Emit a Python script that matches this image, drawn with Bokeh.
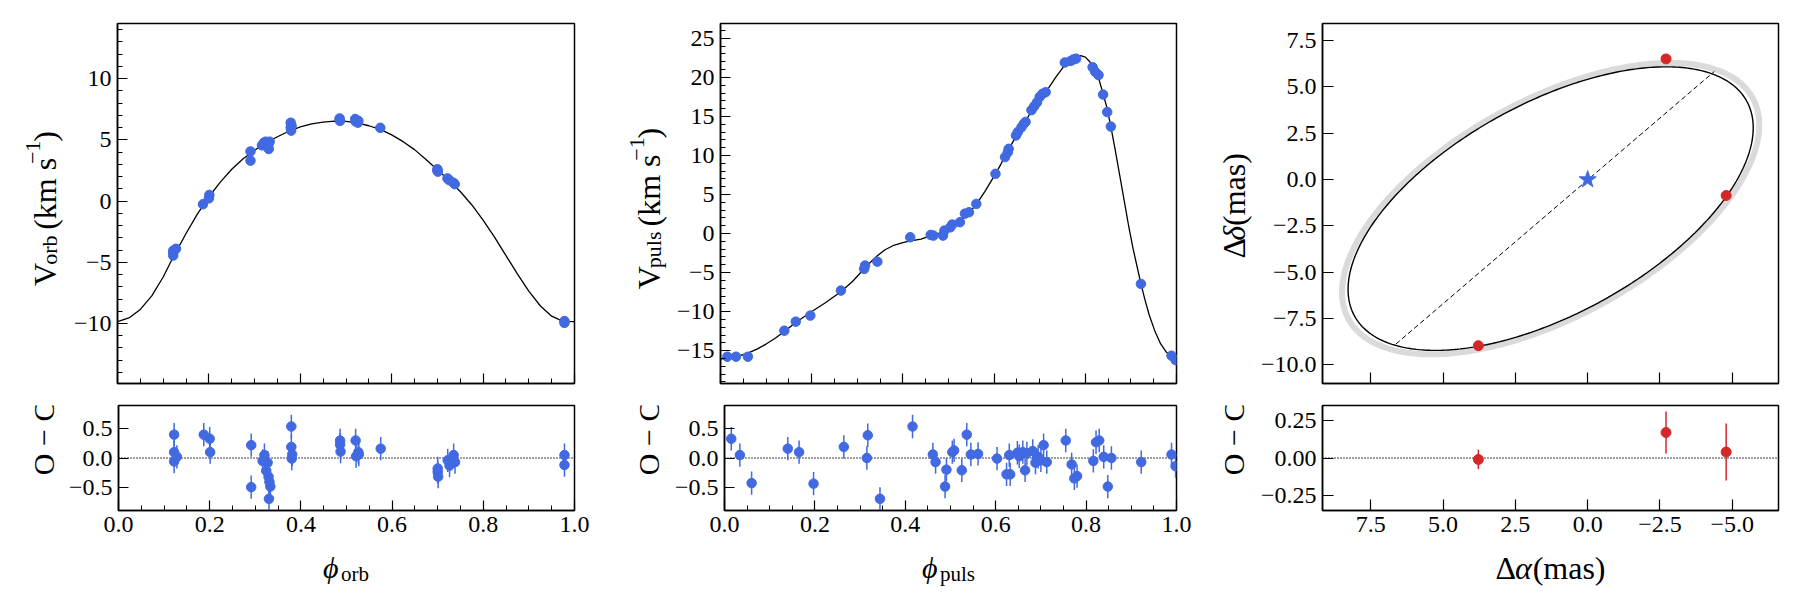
import numpy as np
from math import pi
from bokeh.plotting import figure
from bokeh.layouts import column, row
from bokeh.models import Range1d, FixedTicker, CustomJSTickFormatter, Span
from bokeh.core.properties import value
from bokeh.embed import file_html
from bokeh.resources import INLINE

# ---------------- data ----------------
# orbital phase panel
orb_phase = [0.122, 0.122, 0.122, 0.128, 0.187, 0.200, 0.201, 0.291, 0.291,
             0.316, 0.320, 0.324, 0.327, 0.329, 0.331, 0.333, 0.330,
             0.379, 0.379, 0.380, 0.381, 0.486, 0.486, 0.487,
             0.520, 0.521, 0.526, 0.527, 0.575, 0.700, 0.700, 0.701,
             0.722, 0.726, 0.735, 0.738, 0.978, 0.978]
orb_v = [-4.45, -4.20, -4.05, -3.90, -0.26, 0.22, 0.50, 4.05, 3.30,
         4.55, 4.75, 4.85, 4.65, 4.45, 4.25, 4.85, 4.60,
         6.40, 6.00, 5.75, 6.15, 6.75, 6.60, 6.55,
         6.70, 6.50, 6.40, 6.55, 5.98, 2.60, 2.50, 2.40,
         1.85, 1.70, 1.50, 1.38, -9.80, -9.95]
orb_res = [0.40, 0.10, -0.06, 0.02, 0.40, 0.33, 0.10, 0.22, -0.50,
           -0.05, 0.05, -0.22, -0.08, -0.32, -0.41, -0.49, -0.70,
           0.54, 0.19, -0.01, 0.06, 0.30, 0.23, 0.11,
           0.30, 0.03, 0.10, 0.06, 0.16, -0.18, -0.24, -0.32,
           -0.04, -0.13, 0.05, -0.07, 0.05, -0.12]
orb_err = 0.20
orb_model_phase = [0.000, 0.025, 0.050, 0.075, 0.100, 0.125, 0.150, 0.175, 0.200,
                   0.225, 0.250, 0.275, 0.300, 0.325, 0.350, 0.375, 0.400, 0.425,
                   0.450, 0.475, 0.500, 0.525, 0.550, 0.575, 0.600, 0.625, 0.650,
                   0.675, 0.700, 0.725, 0.750, 0.775, 0.800, 0.825, 0.850, 0.875,
                   0.900, 0.925, 0.950, 0.975, 1.000]
orb_model_v = [-9.85, -9.55, -8.85, -7.75, -6.20, -4.35, -2.65, -1.05, 0.35,
               1.55, 2.60, 3.45, 4.15, 4.75, 5.25, 5.70, 6.05, 6.30,
               6.45, 6.52, 6.50, 6.38, 6.15, 5.85, 5.40, 4.85, 4.20,
               3.40, 2.55, 1.70, 0.78, -0.30, -1.55, -2.95, -4.45, -5.95,
               -7.35, -8.55, -9.40, -9.82, -9.85]

# pulsation phase panel
puls_phase = [0.015, 0.034, 0.060, 0.140, 0.165, 0.197, 0.264, 0.315, 0.317, 0.344,
              0.416, 0.461, 0.467, 0.488, 0.491, 0.504, 0.508, 0.525, 0.536, 0.545,
              0.561, 0.603, 0.624, 0.630, 0.632, 0.648, 0.652, 0.660, 0.665, 0.669,
              0.682, 0.688, 0.694, 0.700, 0.706, 0.713, 0.755, 0.768, 0.774, 0.780,
              0.816, 0.822, 0.829, 0.839, 0.848, 0.856, 0.922, 0.989, 0.998]
puls_v = [-15.77, -15.77, -15.77, -12.44, -11.28, -10.50, -7.30, -4.53, -4.10, -3.60,
          -0.47, -0.17, -0.26, -0.26, 0.38, 0.80, 1.15, 1.45, 2.55, 2.73,
          3.80, 7.65, 9.80, 10.40, 10.85, 12.56, 13.00, 13.60, 14.06, 14.30,
          15.80, 16.30, 16.80, 17.50, 17.90, 18.10, 21.90, 22.10, 22.30, 22.40,
          21.30, 20.70, 20.30, 17.80, 15.56, 13.70, -6.45, -15.64, -16.20]
puls_res = [0.33, 0.05, -0.43, 0.16, 0.10, -0.44, 0.19, 0.00, 0.39, -0.70,
            0.54, 0.06, -0.07, -0.49, -0.20, 0.10, 0.13, -0.21, 0.40, 0.06,
            0.07, -0.01, -0.28, 0.05, -0.28, 0.09, 0.03, 0.10, -0.21, 0.08,
            0.12, -0.08, 0.02, -0.04, 0.22, -0.07, 0.30, -0.11, -0.35, -0.31,
            -0.05, 0.27, 0.30, 0.02, -0.49, 0.00, -0.07, 0.06, -0.14]
puls_err = 0.20
puls_model_phase = [0.000, 0.015, 0.034, 0.060, 0.080, 0.100, 0.120, 0.140, 0.165, 0.197,
                    0.230, 0.264, 0.290, 0.315, 0.330, 0.344, 0.360, 0.380, 0.400, 0.416,
                    0.440, 0.461, 0.480, 0.491, 0.504, 0.515, 0.525, 0.536, 0.545, 0.561,
                    0.580, 0.603, 0.615, 0.624, 0.635, 0.648, 0.660, 0.670, 0.682, 0.694,
                    0.706, 0.720, 0.735, 0.750, 0.765, 0.780, 0.790, 0.800, 0.810, 0.820,
                    0.830, 0.839, 0.848, 0.856, 0.865, 0.875, 0.885, 0.895, 0.905, 0.915,
                    0.922, 0.930, 0.940, 0.952, 0.965, 0.978, 0.989, 1.000]
puls_model_v = [-16.05, -16.00, -15.80, -15.30, -14.80, -14.15, -13.40, -12.55, -11.40, -10.10,
                -8.85, -7.45, -6.10, -4.50, -3.60, -2.85, -2.10, -1.50, -1.15, -0.95,
                -0.70, -0.25, 0.05, 0.45, 0.85, 1.20, 1.60, 2.15, 2.65, 3.75,
                5.40, 7.65, 8.90, 9.95, 11.10, 12.45, 13.55, 14.50, 15.70, 16.75,
                17.60, 18.70, 20.00, 21.20, 22.10, 22.65, 22.80, 22.60, 22.00, 21.00,
                19.75, 17.90, 16.00, 13.70, 10.90, 7.60, 4.30, 1.00, -2.00, -4.60,
                -6.40, -8.30, -10.40, -12.40, -14.10, -15.20, -15.75, -16.05]

# astrometric orbit panel (mas): centre and two conjugate semi-diameters
orbit_cx, orbit_cy = 1.28, -1.565
orbit_u = (-6.783, 5.792)     # semi-major direction (Δα, Δδ)
orbit_v = (1.753, 4.994)      # semi-minor direction (Δα, Δδ)
band_scale_u, band_scale_v = 1.03, 1.025
nodes_x = [6.63, -4.38]
nodes_y = [-8.87, 5.83]
star_x, star_y = [0.0], [0.0]
ast_x = [3.78, -2.71, -4.79]
ast_y = [-8.96, 6.51, -0.86]
ast_res = [-0.01, 0.17, 0.04]
ast_err = [0.065, 0.14, 0.19]

# tick values
phase_major = [0.0, 0.2, 0.4, 0.6, 0.8, 1.0]
phase_minor = [round(0.05 * i, 2) for i in range(21)]
v1_major = [-10, -5, 0, 5, 10]
v1_minor = list(range(-14, 15))
v2_major = [-15, -10, -5, 0, 5, 10, 15, 20, 25]
v2_minor = list(range(-19, 27))
oc_major = [-0.5, 0.0, 0.5]
ra_major = [7.5, 5.0, 2.5, 0.0, -2.5, -5.0]
dec_major = [-10.0, -7.5, -5.0, -2.5, 0.0, 2.5, 5.0, 7.5]
oc3_major = [-0.25, 0.0, 0.25]

# ---------------- styling helpers ----------------
BLUE = "#4169e1"
RED = "#d62728"
FONT = "Liberation Serif"
TICK_SIZE = "24px"

EM = {'V': 0.722, 'o': 0.5, 'r': 0.333, 'b': 0.5, ' ': 0.25, '(': 0.333, ')': 0.333,
      'k': 0.5, 'm': 0.778, 's': 0.389, '−': 0.564, '1': 0.5, 'p': 0.5, 'u': 0.5,
      'l': 0.278, 'O': 0.722, 'C': 0.667, 'Δ': 0.612, 'δ': 0.5, 'α': 0.55,
      'ϕ': 0.6, 'a': 0.444}


def twidth(s, size):
    return sum(EM.get(c, 0.5) for c in s) * size


def fmt(dec):
    return CustomJSTickFormatter(code=(
        "var t = Math.abs(tick) < 1e-9 ? 0 : tick;"
        "return t.toFixed(%d).replace('-', '\u2212');" % dec))


def blank():
    return CustomJSTickFormatter(code="return '';")


def make_fig(w, h, bl, br, bt, bb, xr, yr):
    p = figure(width=w, height=h, x_range=xr, y_range=yr, output_backend="svg",
               toolbar_location=None, min_border_left=bl, min_border_right=br,
               min_border_top=bt, min_border_bottom=bb)
    p.grid.visible = False
    p.outline_line_color = "black"
    p.outline_line_width = 1.5
    p.outline_line_alpha = 1.0
    p.background_fill_color = "white"
    p.border_fill_color = "white"
    for ax in (p.xaxis[0], p.yaxis[0]):
        ax.axis_line_width = 1.5
        ax.axis_line_color = "black"
        ax.major_tick_in = 10
        ax.major_tick_out = 0
        ax.minor_tick_in = 5
        ax.minor_tick_out = 0
        ax.major_tick_line_width = 1.2
        ax.minor_tick_line_width = 1.0
        ax.major_tick_line_color = "black"
        ax.minor_tick_line_color = "black"
        ax.major_label_text_font = FONT
        ax.major_label_text_font_size = TICK_SIZE
        ax.major_label_text_color = "black"
        ax.major_label_standoff = 6
    return p


def strip(w, h):
    """A bare figure whose frame is the whole strip, used to hold axis titles."""
    p = figure(width=w, height=h, x_range=Range1d(0, w), y_range=Range1d(0, h),
               output_backend="svg", toolbar_location=None, min_border=0,
               x_axis_type=None, y_axis_type=None)
    p.grid.visible = False
    p.outline_line_color = None
    p.background_fill_color = "white"
    p.border_fill_color = "white"
    return p


def add_text(p, pieces, cx, cy, vertical):
    def plen(pc):
        return pc if isinstance(pc, (int, float)) else twidth(pc[0], pc[1])
    total = sum(plen(pc) for pc in pieces)
    pos = -total / 2.0
    for pc in pieces:
        if isinstance(pc, (int, float)):
            pos += pc
            continue
        t, s, sh, st = pc
        if vertical:
            x, y, ang = cx - sh, cy + pos, pi / 2
        else:
            x, y, ang = cx + pos, cy + sh, 0.0
        p.text(x=[x], y=[y], text=[t], angle=ang, text_font=value(FONT),
               text_font_size=value("%dpx" % s), text_font_style=value(st),
               text_align=value("left"), text_baseline=value("alphabetic"),
               text_color="black")
        pos += twidth(t, s)


def zero_line(p):
    p.add_layout(Span(location=0, dimension="width", line_color="black",
                      line_width=1.3, line_dash="1 2", level="underlay"))


# ---------------- layout geometry ----------------
MAIN_H, MAIN_BT, MAIN_BB = 394, 23, 11
RES_H, RES_BT, RES_BB = 152, 11, 36
XL_H = 600 - MAIN_H - RES_H
L1, L2, L3 = 65, 56, 48

# ---------------- panel 1: orbital ----------------
W1, BL1, BR1 = 550, 52, 41
m1 = make_fig(W1, MAIN_H, BL1, BR1, MAIN_BT, MAIN_BB, Range1d(0, 1), Range1d(-14.9, 14.5))
m1.xaxis.ticker = FixedTicker(ticks=phase_major, minor_ticks=phase_minor)
m1.xaxis.formatter = blank()
m1.yaxis.ticker = FixedTicker(ticks=v1_major, minor_ticks=v1_minor)
m1.yaxis.formatter = fmt(0)
m1.line(orb_model_phase, orb_model_v, line_color="black", line_width=1.3)
m1.scatter(orb_phase, orb_v, size=9.5, color=BLUE)

r1 = make_fig(W1, RES_H, BL1, BR1, RES_BT, RES_BB, Range1d(0, 1), Range1d(-0.9, 0.9))
r1.xaxis.ticker = FixedTicker(ticks=phase_major, minor_ticks=phase_minor)
r1.xaxis.formatter = fmt(1)
r1.yaxis.ticker = FixedTicker(ticks=oc_major, minor_ticks=[])
r1.yaxis.formatter = fmt(1)
zero_line(r1)
orb_res_a = np.array(orb_res)
r1.segment(x0=orb_phase, y0=orb_res_a - orb_err, x1=orb_phase, y1=orb_res_a + orb_err,
           line_color=BLUE, line_width=1.5)
r1.scatter(orb_phase, orb_res, size=9.5, color=BLUE)

# ---------------- panel 2: pulsation ----------------
W2, BL2, BR2 = 534, 49, 29
m2 = make_fig(W2, MAIN_H, BL2, BR2, MAIN_BT, MAIN_BB, Range1d(0, 1), Range1d(-19.2, 26.9))
m2.xaxis.ticker = FixedTicker(ticks=phase_major, minor_ticks=phase_minor)
m2.xaxis.formatter = blank()
m2.yaxis.ticker = FixedTicker(ticks=v2_major, minor_ticks=v2_minor)
m2.yaxis.formatter = fmt(0)
m2.line(puls_model_phase, puls_model_v, line_color="black", line_width=1.3)
m2.scatter(puls_phase, puls_v, size=9.5, color=BLUE)

r2 = make_fig(W2, RES_H, BL2, BR2, RES_BT, RES_BB, Range1d(0, 1), Range1d(-0.9, 0.9))
r2.xaxis.ticker = FixedTicker(ticks=phase_major, minor_ticks=phase_minor)
r2.xaxis.formatter = fmt(1)
r2.yaxis.ticker = FixedTicker(ticks=oc_major, minor_ticks=[])
r2.yaxis.formatter = fmt(1)
zero_line(r2)
puls_res_a = np.array(puls_res)
r2.segment(x0=puls_phase, y0=puls_res_a - puls_err, x1=puls_phase, y1=puls_res_a + puls_err,
           line_color=BLUE, line_width=1.5)
r2.scatter(puls_phase, puls_res, size=9.5, color=BLUE)

# ---------------- panel 3: astrometric orbit ----------------
W3, BL3, BR3 = 547, 69, 22
m3 = make_fig(W3, MAIN_H, BL3, BR3, MAIN_BT, MAIN_BB, Range1d(9.17, -6.6), Range1d(-11.0, 8.42))
m3.xaxis.ticker = FixedTicker(ticks=ra_major, minor_ticks=[])
m3.xaxis.formatter = blank()
m3.yaxis.ticker = FixedTicker(ticks=dec_major, minor_ticks=[])
m3.yaxis.formatter = fmt(1)
for ax in (m3.xaxis[0], m3.yaxis[0]):
    ax.major_tick_in = 11
t = np.linspace(0, 2 * pi, 361)
ox = orbit_cx + orbit_u[0] * np.cos(t) + orbit_v[0] * np.sin(t)
oy = orbit_cy + orbit_u[1] * np.cos(t) + orbit_v[1] * np.sin(t)
bx = orbit_cx + band_scale_u * orbit_u[0] * np.cos(t) + band_scale_v * orbit_v[0] * np.sin(t)
by = orbit_cy + band_scale_u * orbit_u[1] * np.cos(t) + band_scale_v * orbit_v[1] * np.sin(t)
m3.line(bx, by, line_color="#d6d6d6", line_width=6, line_alpha=0.9)
m3.line(ox, oy, line_color="black", line_width=1.4)
m3.line(nodes_x, nodes_y, line_color="black", line_width=1.0, line_dash="5 3")
m3.scatter(star_x, star_y, marker="star", size=18, color=BLUE)
m3.scatter(ast_x, ast_y, size=10, color=RED)

r3 = make_fig(W3, RES_H, BL3, BR3, RES_BT, RES_BB, Range1d(9.17, -6.6), Range1d(-0.35, 0.35))
r3.xaxis.ticker = FixedTicker(ticks=ra_major, minor_ticks=[])
r3.xaxis.formatter = fmt(1)
r3.yaxis.ticker = FixedTicker(ticks=oc3_major, minor_ticks=[])
r3.yaxis.formatter = fmt(2)
for ax in (r3.xaxis[0], r3.yaxis[0]):
    ax.major_tick_in = 11
zero_line(r3)
ast_res_a = np.array(ast_res)
ast_err_a = np.array(ast_err)
r3.segment(x0=ast_x, y0=ast_res_a - ast_err_a, x1=ast_x, y1=ast_res_a + ast_err_a,
           line_color=RED, line_width=1.5)
r3.scatter(ast_x, ast_res, size=10, color=RED)

# ---------------- axis titles (text strips) ----------------
v_orb = [("V", 32, 0, "normal"), ("orb", 22, -5, "normal"), 9, ("(km s", 32, 0, "normal"),
         ("−1", 22, 12, "normal"), 1, (")", 32, 0, "normal")]
v_puls = [("V", 32, 0, "normal"), ("puls", 22, -5, "normal"), 9, ("(km s", 32, 0, "normal"),
          ("−1", 22, 12, "normal"), 1, (")", 32, 0, "normal")]
oc = [("O − C", 30, 0, "normal")]
d_dec = [("Δ", 32, 0, "normal"), ("δ", 32, 0, "italic"), ("(mas)", 32, 0, "normal")]
d_ra = [("Δ", 32, 0, "normal"), ("α", 32, 0, "italic"), ("(mas)", 32, 0, "normal")]

sm1 = strip(L1, MAIN_H); add_text(sm1, v_orb, 44, 191, True)
sm2 = strip(L2, MAIN_H); add_text(sm2, v_puls, 33, 191, True)
sm3 = strip(L3, MAIN_H); add_text(sm3, d_dec, 28, 191, True)
sr1 = strip(L1, RES_H); add_text(sr1, oc, 43, RES_H - 64, True)
sr2 = strip(L2, RES_H); add_text(sr2, oc, 33, RES_H - 64, True)
sr3 = strip(L3, RES_H); add_text(sr3, oc, 28, RES_H - 64, True)

xl = strip(1800, XL_H)
add_text(xl, [("ϕ", 30, 0, "italic"), ("orb", 21, -6, "normal")], 345.5, XL_H - 21, False)
add_text(xl, [("ϕ", 30, 0, "italic"), ("puls", 21, -6, "normal")], 948, XL_H - 21, False)
add_text(xl, d_ra, 1550, XL_H - 21, False)

layout = column(row(sm1, m1, sm2, m2, sm3, m3),
                row(sr1, r1, sr2, r2, sr3, r3),
                xl)
open("out.html", "w", encoding="utf-8").write(file_html(layout, INLINE, title="orbit"))
